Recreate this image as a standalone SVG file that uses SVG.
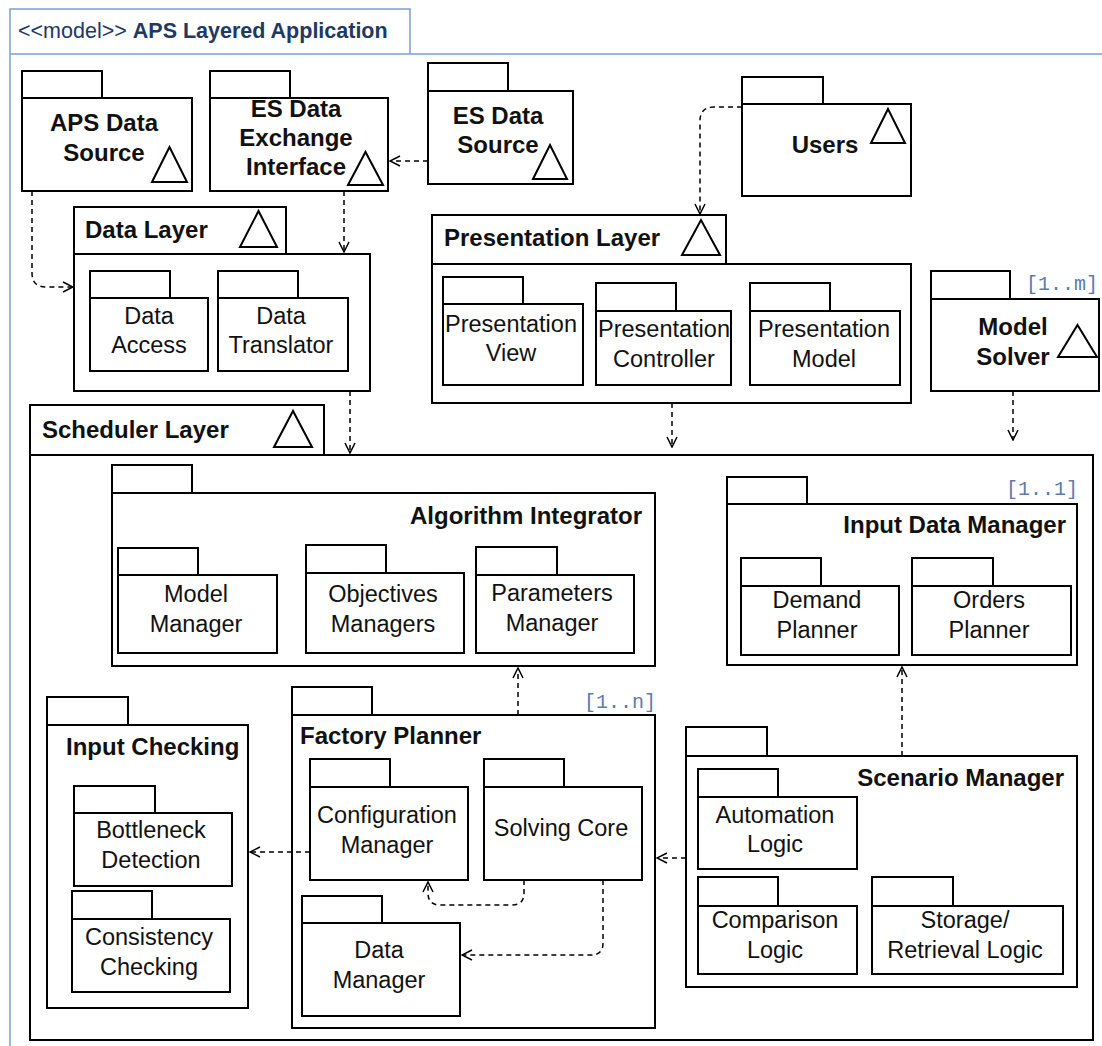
<svg xmlns="http://www.w3.org/2000/svg" width="1102" height="1046" viewBox="0 0 1102 1046">
<style>
.pk{fill:#fff;stroke:#000;stroke-width:2}
.tri{fill:none;stroke:#000;stroke-width:2;stroke-linejoin:miter}
.fr{fill:none;stroke:#7f9fd2;stroke-width:1.5}
.t{font-family:"Liberation Sans",Arial,sans-serif;font-size:23.5px;fill:#111;text-anchor:middle}
.b{font-family:"Liberation Sans",Arial,sans-serif;font-size:24px;font-weight:bold;fill:#111}
.bc{text-anchor:middle}
.br{text-anchor:end}
.m{font-family:"Liberation Mono","Courier New",monospace;font-size:20px;fill:#5b7bb0;text-anchor:end}
.c{fill:none;stroke:#000;stroke-width:1.5;stroke-dasharray:5,4;marker-end:url(#arr)}
</style>
<defs>
<marker id="arr" viewBox="0 0 12 12" refX="11" refY="6" markerWidth="12" markerHeight="12" orient="auto" markerUnits="userSpaceOnUse">
<path d="M1,1 L11,6 L1,11" fill="none" stroke="#000" stroke-width="1.5" stroke-dasharray="none"/>
</marker>
</defs>
<rect width="1102" height="1046" fill="#fff"/>
<g id="frame">
<path class="fr" d="M10,1046 V9 H410 V54 M10,54 H1102"/>
<text x="18" y="38" font-family="'Liberation Sans',Arial,sans-serif" font-size="21.5" fill="#203864">&lt;&lt;model&gt;&gt; <tspan font-weight="bold">APS Layered Application</tspan></text>
</g>

<g id="aps-data-source">
<rect class="pk" x="22" y="71" width="80" height="27"/>
<rect class="pk" x="22" y="98" width="170" height="93"/>
<text class="b bc" x="104" y="131">APS Data</text>
<text class="b bc" x="104" y="161">Source</text>
<path class="tri" d="M152,182 L169.5,147 L187,182 Z"/>
</g>

<g id="es-data-exchange-interface">
<rect class="pk" x="210" y="71" width="80" height="27"/>
<rect class="pk" x="210" y="98" width="178" height="93"/>
<text class="b bc" x="296" y="117">ES Data</text>
<text class="b bc" x="296" y="146">Exchange</text>
<text class="b bc" x="296" y="175">Interface</text>
<path class="tri" d="M348,185 L365.5,152 L383,185 Z"/>
</g>

<g id="es-data-source">
<rect class="pk" x="428" y="63" width="80" height="28"/>
<rect class="pk" x="428" y="91" width="145" height="93"/>
<text class="b bc" x="498" y="124">ES Data</text>
<text class="b bc" x="498" y="153">Source</text>
<path class="tri" d="M533,179 L550,145 L567,179 Z"/>
</g>

<g id="users">
<rect class="pk" x="742" y="77" width="81" height="27"/>
<rect class="pk" x="742" y="104" width="169" height="92"/>
<text class="b bc" x="825" y="153">Users</text>
<path class="tri" d="M871,143 L888,109 L905,143 Z"/>
</g>

<g id="data-layer">
<rect class="pk" x="74" y="207" width="212" height="47"/>
<rect class="pk" x="74" y="254" width="296" height="137"/>
<text class="b" x="85" y="238">Data Layer</text>
<path class="tri" d="M240,247 L258.5,211 L277,247 Z"/>
<g id="data-access">
<rect class="pk" x="90" y="271" width="80" height="27"/>
<rect class="pk" x="90" y="298" width="118" height="73"/>
<text class="t" x="149" y="324">Data</text>
<text class="t" x="149" y="353">Access</text>
</g>
<g id="data-translator">
<rect class="pk" x="218" y="271" width="80" height="27"/>
<rect class="pk" x="218" y="298" width="130" height="73"/>
<text class="t" x="281" y="324">Data</text>
<text class="t" x="281" y="353">Translator</text>
</g>
</g>

<g id="presentation-layer">
<rect class="pk" x="432" y="215" width="294" height="49"/>
<rect class="pk" x="432" y="264" width="479" height="139"/>
<text class="b" x="444" y="246">Presentation Layer</text>
<path class="tri" d="M682,255 L701,220 L720,255 Z"/>
<g id="presentation-view">
<rect class="pk" x="443" y="277" width="80" height="27"/>
<rect class="pk" x="443" y="304" width="140" height="81"/>
<text class="t" x="511" y="332">Presentation</text>
<text class="t" x="511" y="361">View</text>
</g>
<g id="presentation-controller">
<rect class="pk" x="596" y="283" width="80" height="28"/>
<rect class="pk" x="596" y="311" width="135" height="74"/>
<text class="t" x="664" y="337">Presentation</text>
<text class="t" x="664" y="367">Controller</text>
</g>
<g id="presentation-model">
<rect class="pk" x="750" y="283" width="80" height="28"/>
<rect class="pk" x="750" y="311" width="150" height="74"/>
<text class="t" x="824" y="337">Presentation</text>
<text class="t" x="824" y="367">Model</text>
</g>
</g>

<g id="model-solver">
<rect class="pk" x="931" y="271" width="79" height="28"/>
<rect class="pk" x="931" y="299" width="168" height="92"/>
<text class="m" x="1098" y="290">[1..m]</text>
<text class="b bc" x="1013" y="335">Model</text>
<text class="b bc" x="1013" y="365">Solver</text>
<path class="tri" d="M1058,357 L1077.5,325 L1097,357 Z"/>
</g>

<g id="scheduler-layer">
<rect class="pk" x="30" y="405" width="294" height="50"/>
<rect class="pk" x="30" y="455" width="1063" height="585"/>
<text class="b" x="42" y="438">Scheduler Layer</text>
<path class="tri" d="M274,447 L293,411 L312,447 Z"/>

<g id="algorithm-integrator">
<rect class="pk" x="112" y="465" width="80" height="28"/>
<rect class="pk" x="112" y="493" width="543" height="173"/>
<text class="b br" x="642" y="524">Algorithm Integrator</text>
<g id="model-manager">
<rect class="pk" x="118" y="548" width="80" height="27"/>
<rect class="pk" x="118" y="575" width="159" height="78"/>
<text class="t" x="196" y="602">Model</text>
<text class="t" x="196" y="632">Manager</text>
</g>
<g id="objectives-managers">
<rect class="pk" x="306" y="545" width="80" height="28"/>
<rect class="pk" x="306" y="573" width="158" height="80"/>
<text class="t" x="383" y="602">Objectives</text>
<text class="t" x="383" y="632">Managers</text>
</g>
<g id="parameters-manager">
<rect class="pk" x="476" y="547" width="81" height="28"/>
<rect class="pk" x="476" y="575" width="158" height="78"/>
<text class="t" x="552" y="601">Parameters</text>
<text class="t" x="552" y="631">Manager</text>
</g>
</g>

<g id="input-data-manager">
<rect class="pk" x="727" y="477" width="80" height="27"/>
<rect class="pk" x="727" y="504" width="350" height="161"/>
<text class="m" x="1078" y="495">[1..1]</text>
<text class="b br" x="1066" y="533">Input Data Manager</text>
<g id="demand-planner">
<rect class="pk" x="741" y="558" width="80" height="28"/>
<rect class="pk" x="741" y="586" width="158" height="69"/>
<text class="t" x="817" y="608">Demand</text>
<text class="t" x="817" y="638">Planner</text>
</g>
<g id="orders-planner">
<rect class="pk" x="912" y="558" width="81" height="28"/>
<rect class="pk" x="912" y="586" width="159" height="69"/>
<text class="t" x="989" y="608">Orders</text>
<text class="t" x="989" y="638">Planner</text>
</g>
</g>

<g id="input-checking">
<rect class="pk" x="47" y="697" width="81" height="28"/>
<rect class="pk" x="47" y="725" width="201" height="283"/>
<text class="b" x="66" y="755">Input Checking</text>
<g id="bottleneck-detection">
<rect class="pk" x="74" y="786" width="81" height="27"/>
<rect class="pk" x="74" y="813" width="158" height="73"/>
<text class="t" x="151" y="838">Bottleneck</text>
<text class="t" x="151" y="868">Detection</text>
</g>
<g id="consistency-checking">
<rect class="pk" x="72" y="891" width="80" height="28"/>
<rect class="pk" x="72" y="919" width="158" height="73"/>
<text class="t" x="149" y="945">Consistency</text>
<text class="t" x="149" y="975">Checking</text>
</g>
</g>

<g id="factory-planner">
<rect class="pk" x="292" y="687" width="80" height="28"/>
<rect class="pk" x="292" y="715" width="363" height="313"/>
<text class="m" x="656" y="708">[1..n]</text>
<text class="b" x="300" y="744">Factory Planner</text>
<g id="configuration-manager">
<rect class="pk" x="310" y="759" width="80" height="28"/>
<rect class="pk" x="310" y="787" width="158" height="93"/>
<text class="t" x="387" y="823">Configuration</text>
<text class="t" x="387" y="853">Manager</text>
</g>
<g id="solving-core">
<rect class="pk" x="484" y="759" width="80" height="28"/>
<rect class="pk" x="484" y="787" width="158" height="93"/>
<text class="t" x="561" y="836">Solving Core</text>
</g>
<g id="data-manager">
<rect class="pk" x="302" y="896" width="80" height="27"/>
<rect class="pk" x="302" y="923" width="158" height="93"/>
<text class="t" x="379" y="958">Data</text>
<text class="t" x="379" y="988">Manager</text>
</g>
</g>

<g id="scenario-manager">
<rect class="pk" x="686" y="727" width="81" height="29"/>
<rect class="pk" x="686" y="756" width="391" height="231"/>
<text class="b br" x="1064" y="786">Scenario Manager</text>
<g id="automation-logic">
<rect class="pk" x="698" y="769" width="80" height="28"/>
<rect class="pk" x="698" y="797" width="159" height="72"/>
<text class="t" x="775" y="823">Automation</text>
<text class="t" x="775" y="852">Logic</text>
</g>
<g id="comparison-logic">
<rect class="pk" x="698" y="877" width="80" height="29"/>
<rect class="pk" x="698" y="906" width="159" height="68"/>
<text class="t" x="775" y="928">Comparison</text>
<text class="t" x="775" y="958">Logic</text>
</g>
<g id="storage-retrieval-logic">
<rect class="pk" x="872" y="877" width="81" height="29"/>
<rect class="pk" x="872" y="906" width="191" height="68"/>
<text class="t" x="965" y="928">Storage/</text>
<text class="t" x="965" y="958">Retrieval Logic</text>
</g>
</g>
</g>

<g id="connectors">
<path class="c" d="M32,191 V273 Q32,287 46,287 H73"/>
<path class="c" d="M344,191 V252"/>
<path class="c" d="M428,161 H390"/>
<path class="c" d="M742,107 H714 Q700,107 700,121 V214"/>
<path class="c" d="M350,391 V453"/>
<path class="c" d="M672,403 V447"/>
<path class="c" d="M1013,391 V440"/>
<path class="c" d="M518,715 V668"/>
<path class="c" d="M902,756 V667"/>
<path class="c" d="M310,852 H250"/>
<path class="c" d="M686,858 H657"/>
<path class="c" d="M524,880 V893 Q524,905 512,905 H440 Q428,905 428,893 V882"/>
<path class="c" d="M603,880 V943 Q603,955 591,955 H462"/>
</g>
</svg>
